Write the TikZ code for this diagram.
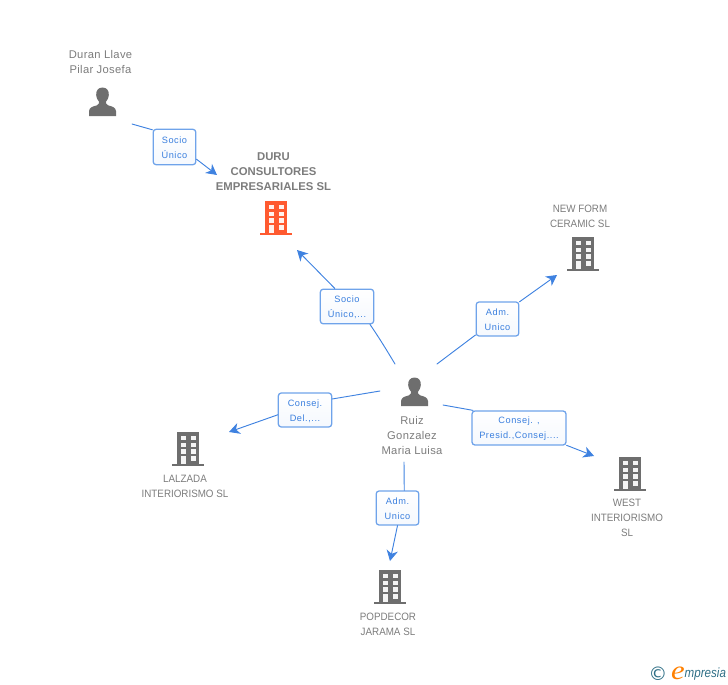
\documentclass[tikz,border=0pt]{standalone}
\usepackage{fontspec}
\setmainfont{Liberation Sans}
\newfontfamily\lblfont[LetterSpace=6]{Liberation Sans}
\newfontfamily\namefont[LetterSpace=3]{Liberation Sans}
\newfontfamily\logoserif{Liberation Serif}
\newfontfamily\logosym{DejaVu Sans}
\usetikzlibrary{arrows.meta}
\definecolor{lnk}{HTML}{3F82E0}
\definecolor{bord}{HTML}{6FA3EA}
\definecolor{txtb}{HTML}{3A7FDE}
\definecolor{gr}{HTML}{6E6E6E}
\definecolor{txtg}{HTML}{7C7C7C}
\definecolor{org}{HTML}{FF5A30}
\definecolor{teal2}{HTML}{2F6F86}
\newcommand{\dn}[1]{\raisebox{-0.75pt}[\height][\depth]{#1}}
\tikzset{
  x=0.75pt,y=-0.75pt,
  link/.style={draw=lnk,line width=0.7pt,line cap=round},
  arr/.style={link,-{Stealth[length=8pt,width=8.5pt,inset=2.5pt]}},
  lab/.style={draw=bord,line width=0.95pt,rounded corners=2.2pt,top color=white,bottom color=white!93!bord,
    text=txtb,align=center,inner sep=0pt,font=\lblfont\fontsize{6.9pt}{11.2pt}\selectfont},
  nm/.style={text=txtg,align=center,inner sep=0pt,font=\namefont\fontsize{8.4pt}{11.25pt}\selectfont},
  nmu/.style={text=txtg,align=center,inner sep=0pt,xscale=0.92,font=\fontsize{8pt}{11.25pt}\selectfont},
  nmb/.style={text=txtg,align=center,inner sep=0pt,font=\bfseries\fontsize{8.5pt}{11.25pt}\selectfont},
  pics/person/.style={code={
    \fill[gr] (0,-15) .. controls (-4.6,-15) and (-6.6,-11.5) .. (-6.3,-7.5)
      .. controls (-6,-4) and (-4.5,-2) .. (-3.4,-0.6)
      .. controls (-3.4,1) and (-3.8,2) .. (-6,3)
      .. controls (-10,4) and (-13,5) .. (-13.5,8.5) -- (-13.5,13.5) -- (13.5,13.5) -- (13.5,8.5)
      .. controls (13,5) and (10,4) .. (6,3)
      .. controls (3.8,2) and (3.4,1) .. (3.4,-0.6)
      .. controls (4.5,-2) and (6,-4) .. (6.3,-7.5)
      .. controls (6.6,-11.5) and (4.6,-15) .. (0,-15) -- cycle;
  }},
  pics/building/.style={code={
    \fill[#1] (-11,-17) rectangle (11,15.5);
    \fill[#1] (-16,14.5) rectangle (16,17);
    \foreach \yy in {-13,-6.3,0.3}{
      \fill[white!92!#1] (-7.5,\yy) rectangle (-2.5,\yy+4.4);
      \fill[white!92!#1] (2.5,\yy) rectangle (7.5,\yy+4.4);
    }
    \fill[white!92!#1] (-7.5,7) rectangle (-2.5,14.7);
    \fill[white!92!#1] (2.5,7) rectangle (7.5,11.5);
  }},
}
\begin{document}
\begin{tikzpicture}
\useasboundingbox (0,0) rectangle (728,685);
% icons
\pic at (102.5,102.5) {person};
\pic at (414.5,392.5) {person};
\pic at (276,218) {building=org};
\pic at (583,254) {building=gr};
\pic at (188,449) {building=gr};
\pic at (630,474) {building=gr};
\pic at (390,587) {building=gr};
% names
\node[nm] (duran) at (100.5,62) {Duran Llave\\Pilar Josefa};
\node[nmb] (duru) at (273.5,172) {DURU\\CONSULTORES\\EMPRESARIALES SL};
\node[nmu] (newform) at (580,216) {NEW FORM\\CERAMIC SL};
\node[nmu] (lalzada) at (185,486) {LALZADA\\INTERIORISMO SL};
\node[nmu] (west) at (627,518) {WEST\\INTERIORISMO\\SL};
\node[nmu] (popdecor) at (388,624) {POPDECOR\\JARAMA SL};
\node[nm] (ruiz) at (412,435) {Ruiz\\Gonzalez\\Maria Luisa};
% connector labels
\node[lab,minimum width=32pt,minimum height=26.5pt] (l1) at (174.5,147) {\dn{Socio}\\\dn{Único}};
\node[lab,minimum width=40pt,minimum height=26pt] (l2) at (347,306.5) {\dn{Socio}\\\dn{Único,...}};
\node[lab,minimum width=32pt,minimum height=25.5pt] (l3) at (497.5,319) {\dn{Adm.}\\\dn{Unico}};
\node[lab,minimum width=40pt,minimum height=25.5pt] (l4) at (305,410) {\dn{Consej.}\\\dn{Del.,...}};
\node[lab,minimum width=70.5pt,minimum height=25.5pt] (l5) at (519,428) {\dn{Consej. ,}\\\dn{Presid.,Consej....}};
\node[lab,minimum width=32pt,minimum height=25.5pt] (l6) at (397.5,508) {\dn{Adm.}\\\dn{Unico}};
% free ends
\coordinate (a1) at (132,124);
\coordinate (b1) at (217,175);
\coordinate (a2) at (395,364);
\coordinate (b2) at (297,250);
\coordinate (a3) at (437,364);
\coordinate (b3) at (557,275);
\coordinate (a4) at (380,391);
\coordinate (b4) at (229,432);
\coordinate (a5) at (443,405);
\coordinate (b5) at (594,456);
\coordinate (a6) at (404,462);
\coordinate (b6) at (390,561);
% connectors
\draw[link] (a1) -- (l1.142);
\draw[arr] (l1.-29) -- (b1);
\draw[link] (a2) .. controls (386,349) and (378,336) .. (l2.-38.5);
\draw[arr] (l2.124) -- (b2);
\draw[link] (a3) -- (l3.216.6);
\draw[arr] (l3.38) -- (b3);
\draw[link] (a4) -- (l4.22);
\draw[arr] (l4.190.5) -- (b4);
\draw[link] (a5) -- (l5.159);
\draw[arr] (l5.-20) -- (b5);
\draw[link] (a6) -- (l6.69);
\draw[arr] (l6.-90) -- (b6);
% logo
\node[inner sep=0pt,text=teal2,font=\logosym\fontsize{14pt}{14pt}\selectfont] (copyr) at (658,674) {©};
\node[inner sep=0pt,text=orange,xscale=1.15,font=\logoserif\itshape\fontsize{20pt}{20pt}\selectfont] (logoe) at (678,673) {e};
\node[inner sep=0pt,anchor=west,text=teal2,xscale=0.87,font=\itshape\fontsize{10pt}{10pt}\selectfont] (logot) at (684.5,674) {mpresia};
\end{tikzpicture}
\end{document}
